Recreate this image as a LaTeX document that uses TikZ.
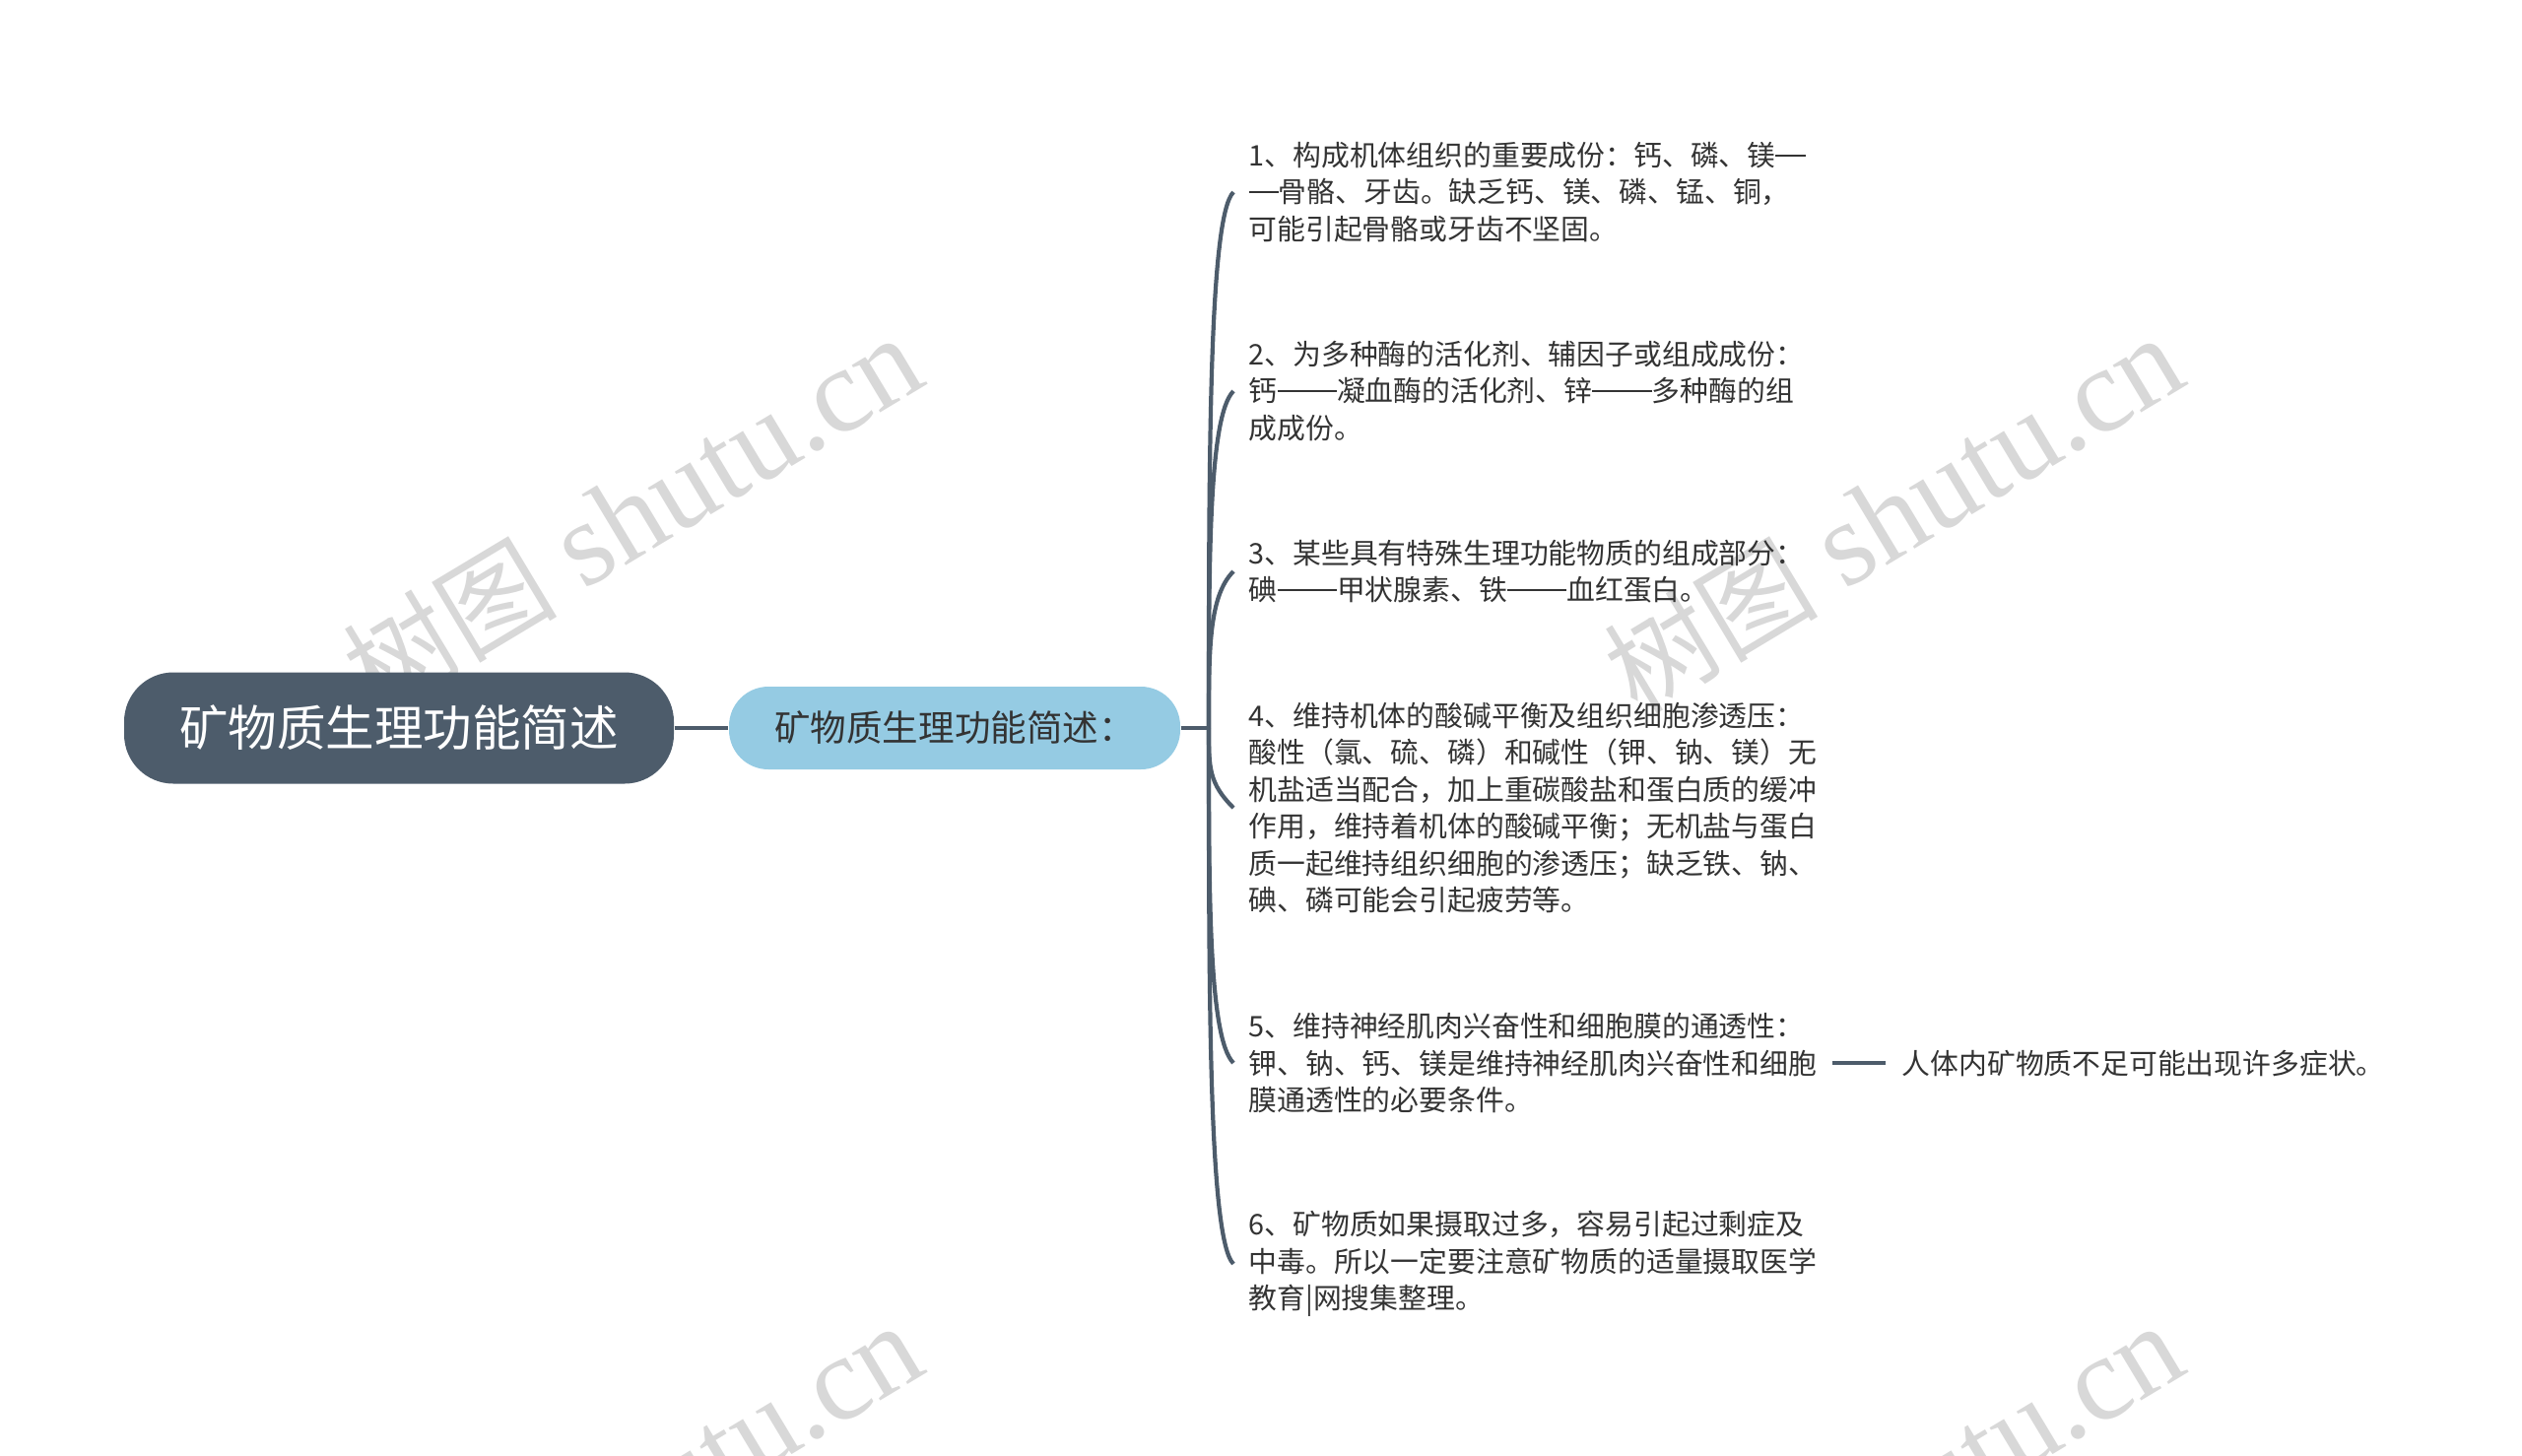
\documentclass[tikz,border=0pt]{standalone}
\usepackage{fontspec}
\setmainfont{Noto Sans CJK SC}
\newfontfamily\wmfont{Liberation Serif}
\usepackage{xcolor}
\usepackage{tikz}
\usetikzlibrary{shapes,arrows,positioning,calc}
\definecolor{rootgray}{HTML}{4D5C6B}
\definecolor{subblue}{HTML}{95CBE3}
\definecolor{txtgray}{HTML}{333333}
\definecolor{wmgray}{HTML}{D8D8D8}
\newcommand{\wdash}{\rule[0.34em]{1.05em}{0.065em}}

\begin{document}
\begin{tikzpicture}[
    rootbox/.style={rectangle, fill=rootgray, text=white, rounded corners=0.5cm, minimum width=5.58cm, minimum height=1.13cm, font=\fontsize{14.1}{17}\selectfont},
    subbox/.style={rectangle, fill=subblue, text=txtgray, rounded corners=0.4cm, minimum width=4.58cm, minimum height=0.84cm, font=\fontsize{10.4}{13}\selectfont},
    itembox/.style={align=left, anchor=west, inner xsep=0.15cm, inner ysep=0pt, text=txtgray, font=\fontsize{8.2}{10.67}\selectfont},
    wmtext/.style={text=wmgray, rotate=31, font=\fontsize{34.7}{40}\selectfont},
    line/.style={draw=rootgray, line width=1.2pt}
]

\useasboundingbox (0,0) rectangle (25.6,-14.77);

% Watermarks
\begin{scope}
\clip (0,0) rectangle (25.6,-14.77);
\node [wmtext] (wm1) at (6.42,-5.22) {{\fontsize{31}{36}\selectfont 树图} {\wmfont shutu.cn}};
\node [wmtext] (wm2) at (19.22,-5.22) {{\fontsize{31}{36}\selectfont 树图} {\wmfont shutu.cn}};
\node [wmtext] (wm3) at (6.42,-15.25) {{\fontsize{31}{36}\selectfont 树图} {\wmfont shutu.cn}};
\node [wmtext] (wm4) at (19.22,-15.25) {{\fontsize{31}{36}\selectfont 树图} {\wmfont shutu.cn}};
\end{scope}

% Root
\node [rootbox] (root) at (4.05,-7.39) {矿物质生理功能简述};

% Summary
\node [subbox] (sub) at (9.69,-7.39) {矿物质生理功能简述：};

% Junction
\coordinate (jct) at (12.27,-7.39);

% Items
\node [itembox] (i1) at (12.52,-1.95) {1、构成机体组织的重要成份：钙、磷、镁\wdash\\\wdash 骨骼、牙齿。缺乏钙、镁、磷、锰、铜，\\可能引起骨骼或牙齿不坚固。};
\node [itembox] (i2) at (12.52,-3.97) {2、为多种酶的活化剂、辅因子或组成成份：\\钙\wdash\wdash 凝血酶的活化剂、锌\wdash\wdash 多种酶的组\\成成份。};
\node [itembox] (i3) at (12.52,-5.80) {3、某些具有特殊生理功能物质的组成部分：\\碘\wdash\wdash 甲状腺素、铁\wdash\wdash 血红蛋白。};
\node [itembox] (i4) at (12.52,-8.20) {4、维持机体的酸碱平衡及组织细胞渗透压：\\酸性（氯、硫、磷）和碱性（钾、钠、镁）无\\机盐适当配合，加上重碳酸盐和蛋白质的缓冲\\作用，维持着机体的酸碱平衡；无机盐与蛋白\\质一起维持组织细胞的渗透压；缺乏铁、钠、\\碘、磷可能会引起疲劳等。};
\node [itembox] (i5) at (12.52,-10.79) {5、维持神经肌肉兴奋性和细胞膜的通透性：\\钾、钠、钙、镁是维持神经肌肉兴奋性和细胞\\膜通透性的必要条件。};
\node [itembox] (i6) at (12.52,-12.83) {6、矿物质如果摄取过多，容易引起过剩症及\\中毒。所以一定要注意矿物质的适量摄取医学\\教育|网搜集整理。};

% Leaf
\node [itembox, inner xsep=0.16cm] (leaf) at (19.14,-10.79) {人体内矿物质不足可能出现许多症状。};

% Connections
\path [line] (root.east) -- (sub.west);
\path [line] (sub.east) -- (jct);
\path [line] (jct) .. controls ($(jct)!0.5!(jct |- i1.west)$) and ([yshift=-0.25cm]jct |- i1.west) .. (i1.west);
\path [line] (jct) .. controls ($(jct)!0.5!(jct |- i2.west)$) and ([yshift=-0.25cm]jct |- i2.west) .. (i2.west);
\path [line] (jct) .. controls ($(jct)!0.5!(jct |- i3.west)$) and ([yshift=-0.25cm]jct |- i3.west) .. (i3.west);
\path [line] (jct) .. controls ($(jct)!0.5!(jct |- i4.west)$) and ([yshift=0.25cm]jct |- i4.west) .. (i4.west);
\path [line] (jct) .. controls ($(jct)!0.5!(jct |- i5.west)$) and ([yshift=0.25cm]jct |- i5.west) .. (i5.west);
\path [line] (jct) .. controls ($(jct)!0.5!(jct |- i6.west)$) and ([yshift=0.25cm]jct |- i6.west) .. (i6.west);
\path [line] (i5.east) -- (leaf.west);

\end{tikzpicture}
\end{document}
